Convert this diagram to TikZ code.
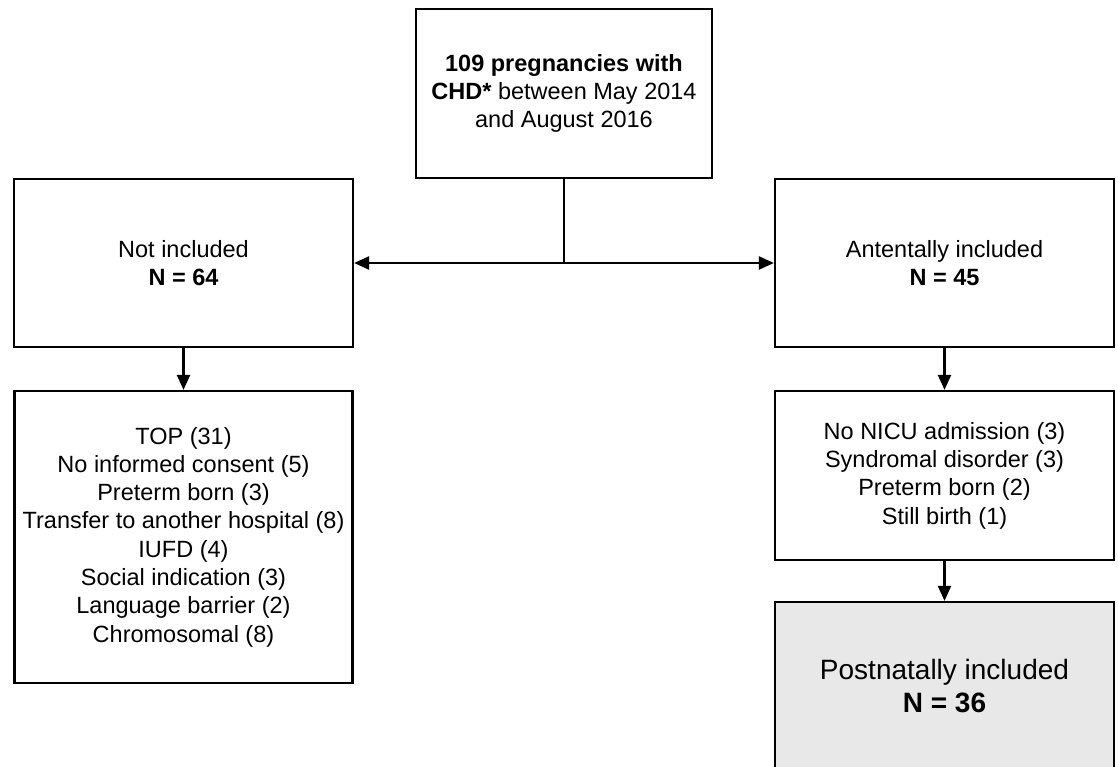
\documentclass[tikz,border=0pt]{standalone}
\usepackage{fontspec}
\setmainfont{Liberation Sans}
\usetikzlibrary{arrows.meta}
\begin{document}
\begin{tikzpicture}[x=1pt,y=-1pt,
  box/.style={draw=black,line width=2.2pt,rectangle,inner sep=0pt,align=center,
    font=\fontsize{23.5}{28.3}\selectfont},
  conn/.style={line width=2.2pt,draw=black},
  arr/.style={conn,-{Triangle[length=15pt,width=13pt]}}]
\useasboundingbox (0,0) rectangle (1118,767);
\clip (0,0) rectangle (1118,767);
\fill[white] (0,0) rectangle (1118,767);
\node[box,minimum width=296pt,minimum height=169pt] (top) at (564,93.5)
  {\textbf{109 pregnancies with}\\\textbf{CHD*} between May 2014\\and August 2016};
\node[box,minimum width=339pt,minimum height=168pt] (notinc) at (183.5,263)
  {Not included\\\textbf{N = 64}};
\node[box,minimum width=339pt,minimum height=168pt] (ante) at (944.5,263)
  {Antentally included\\\textbf{N = 45}};
\node[box,minimum width=338pt,minimum height=292pt] (llist) at (183.5,537)
  {TOP (31)\\No informed consent (5)\\Preterm born (3)\\Transfer to another hospital (8)\\IUFD (4)\\Social indication (3)\\Language barrier (2)\\Chromosomal (8)};
\node[box,minimum width=339pt,minimum height=169pt] (rlist) at (944.5,475.5)
  {No NICU admission (3)\\Syndromal disorder (3)\\Preterm born (2)\\Still birth (1)};
\node[box,fill={rgb,255:red,232;green,232;blue,232},minimum width=339pt,minimum height=168pt,
  font=\fontsize{28}{33}\selectfont] (post) at (944.5,686)
  {Postnatally included\\\textbf{N = 36}};
\coordinate (split) at (564,263);
\draw[conn] (top.south) -- (split);
\draw[arr] (split) -- (notinc.east);
\draw[arr] (split) -- (ante.west);
\draw[arr] (notinc.south) -- (llist.north);
\draw[arr] (ante.south) -- (rlist.north);
\draw[arr] (rlist.south) -- (post.north);
\end{tikzpicture}
\end{document}
